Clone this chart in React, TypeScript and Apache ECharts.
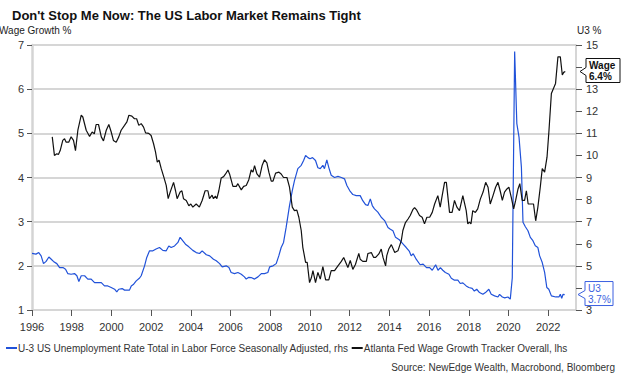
import React, { useEffect, useRef } from "react";
import * as echarts from "echarts";

const FONT = "Liberation Sans, Arial, Helvetica, sans-serif";

const titleText = "Don't Stop Me Now: The US Labor Market Remains Tight";
const leftAxisName = "Wage Growth %";
const rightAxisName = "U3 %";
const unempName = "U-3 US Unemployment Rate Total in Labor Force Seasonally Adjusted, rhs";
const wageName = "Atlanta Fed Wage Growth Tracker Overall, lhs";
const sourceText = "Source: NewEdge Wealth, Macrobond, Bloomberg";

const yearTicks = [1996, 1998, 2000, 2002, 2004, 2006, 2008, 2010, 2012, 2014, 2016, 2018, 2020, 2022];
// right-axis labels covered by the callouts in the original
const hiddenRightLabels = [14, 4];

// Atlanta Fed wage growth tracker (lhs), decimal year / %
const wageDates = [
  1997.02, 1997.13, 1997.25, 1997.33, 1997.42, 1997.55, 1997.64, 1997.72, 1997.85, 1997.97,
  1998.09, 1998.19, 1998.31, 1998.48, 1998.56, 1998.73, 1998.9, 1999.03, 1999.14, 1999.23,
  1999.35, 1999.49, 1999.6, 1999.74, 1999.87, 1999.99, 2000.1, 2000.24, 2000.37, 2000.49,
  2000.66, 2000.78, 2000.88, 2001.03, 2001.16, 2001.27, 2001.38, 2001.5, 2001.62, 2001.72,
  2001.88, 2002.0, 2002.12, 2002.22, 2002.31, 2002.4, 2002.51, 2002.64, 2002.76, 2002.86,
  2002.96, 2003.13, 2003.23, 2003.31, 2003.46, 2003.55, 2003.63, 2003.77, 2003.9, 2004.0,
  2004.1, 2004.27, 2004.43, 2004.57, 2004.72, 2004.86, 2004.94, 2005.07, 2005.14, 2005.24,
  2005.31, 2005.41, 2005.53, 2005.65, 2005.75, 2005.87, 2005.95, 2006.12, 2006.29, 2006.37,
  2006.54, 2006.66, 2006.79, 2006.92, 2007.04, 2007.13, 2007.21, 2007.33, 2007.46, 2007.59,
  2007.71, 2007.83, 2007.93, 2008.05, 2008.14, 2008.27, 2008.44, 2008.55, 2008.67, 2008.84,
  2008.97, 2009.11, 2009.22, 2009.34, 2009.44, 2009.56, 2009.64, 2009.78, 2009.86, 2009.98,
  2010.07, 2010.15, 2010.28, 2010.4, 2010.52, 2010.65, 2010.79, 2010.95, 2011.07, 2011.24,
  2011.41, 2011.58, 2011.7, 2011.8, 2011.91, 2012.03, 2012.16, 2012.29, 2012.46, 2012.53,
  2012.66, 2012.84, 2012.92, 2013.09, 2013.21, 2013.31, 2013.47, 2013.59, 2013.68, 2013.81,
  2013.87, 2013.97, 2014.1, 2014.27, 2014.43, 2014.6, 2014.68, 2014.81, 2014.94, 2015.05,
  2015.18, 2015.27, 2015.38, 2015.52, 2015.65, 2015.77, 2015.89, 2016.03, 2016.16, 2016.28,
  2016.44, 2016.56, 2016.66, 2016.78, 2016.87, 2017.03, 2017.16, 2017.28, 2017.4, 2017.53,
  2017.7, 2017.87, 2017.95, 2018.03, 2018.11, 2018.2, 2018.33, 2018.45, 2018.58, 2018.72,
  2018.85, 2018.97, 2019.08, 2019.22, 2019.35, 2019.47, 2019.58, 2019.69, 2019.8, 2019.92,
  2020.02, 2020.14, 2020.26, 2020.36, 2020.48, 2020.57, 2020.69, 2020.81, 2020.9, 2020.99,
  2021.15, 2021.26, 2021.37, 2021.48, 2021.6, 2021.7, 2021.82, 2021.94, 2022.04, 2022.16,
  2022.27, 2022.37, 2022.49, 2022.61, 2022.71, 2022.78, 2022.86,
];
const wageValues = [
  4.92, 4.5, 4.54, 4.52, 4.61, 4.84, 4.88, 4.8, 4.8, 4.92,
  4.84, 4.61, 5.07, 5.41, 5.37, 5.07, 4.93, 5.03, 4.99, 5.2,
  5.2, 4.92, 4.83, 5.07, 5.2, 5.03, 4.84, 4.8, 4.92, 5.07,
  5.18, 5.26, 5.41, 5.39, 5.33, 5.33, 5.18, 5.22, 5.14, 5.01,
  5.0, 4.95, 4.77, 4.58, 4.35, 4.39, 4.2, 4.01, 3.82, 3.52,
  3.67, 3.89, 3.7, 3.52, 3.67, 3.7, 3.52, 3.48, 3.36, 3.4,
  3.33, 3.4, 3.33, 3.48, 3.7, 3.7, 3.52, 3.6, 3.52, 3.58,
  3.52, 3.7, 3.99, 4.02, 4.08, 4.17, 4.08, 3.8, 3.8, 3.86,
  3.72, 3.8, 3.82, 3.95, 4.17, 4.12, 4.27, 4.08, 4.01, 4.27,
  4.4, 4.33, 4.12, 3.92, 3.92, 4.1, 4.12, 4.08, 4.0, 4.0,
  3.78, 3.33, 3.25, 3.26, 3.1, 2.8, 2.42, 2.08, 2.08, 1.62,
  1.73, 1.89, 1.62, 1.85, 1.7, 1.98, 1.68, 1.68, 1.89, 1.89,
  2.0, 2.1, 2.19, 2.08, 1.96, 2.12, 1.92, 2.03, 2.28, 2.15,
  2.1, 2.1, 2.28, 2.3, 2.19, 2.19, 2.27, 2.38, 2.19, 2.0,
  2.23, 2.38, 2.48, 2.3, 2.34, 2.57, 2.8, 2.98, 3.06, 3.14,
  3.27, 3.32, 3.26, 3.14, 3.1, 2.95, 3.1, 3.1, 3.21, 3.4,
  3.59, 3.33, 3.59, 3.89, 3.89, 3.21, 3.21, 3.48, 3.33, 3.25,
  3.59, 3.25, 2.95, 2.99, 2.95, 3.25, 3.21, 3.29, 3.51, 3.67,
  3.89, 3.78, 3.4, 3.59, 3.78, 3.89, 3.7, 3.48, 3.67, 3.74,
  3.78, 3.55, 3.29, 3.48, 3.74, 3.86, 3.48, 3.48, 3.7, 3.4,
  3.4, 3.4, 3.02, 3.33, 3.78, 4.2, 4.12, 4.46, 5.07, 5.9,
  6.02, 6.13, 6.73, 6.73, 6.32, 6.38, 6.4,
];

// U-3 unemployment rate (rhs), decimal year / %
const unempDates = [
  1996.0, 1996.2, 1996.34, 1996.46, 1996.58, 1996.71, 1996.85, 1996.97, 1997.08, 1997.25,
  1997.39, 1997.56, 1997.69, 1997.8, 1997.97, 1998.14, 1998.26, 1998.36, 1998.48, 1998.65,
  1998.81, 1998.98, 1999.15, 1999.32, 1999.49, 1999.65, 1999.82, 1999.99, 2000.16, 2000.27,
  2000.37, 2000.54, 2000.66, 2000.78, 2000.91, 2001.0, 2001.12, 2001.25, 2001.42, 2001.5,
  2001.67, 2001.78, 2001.92, 2002.09, 2002.25, 2002.42, 2002.59, 2002.76, 2002.89, 2003.01,
  2003.18, 2003.35, 2003.46, 2003.59, 2003.73, 2003.9, 2004.1, 2004.27, 2004.44, 2004.57,
  2004.78, 2004.95, 2005.14, 2005.28, 2005.45, 2005.58, 2005.78, 2005.92, 2006.03, 2006.2,
  2006.37, 2006.54, 2006.7, 2006.79, 2006.92, 2007.04, 2007.21, 2007.38, 2007.55, 2007.71,
  2007.88, 2007.97, 2008.14, 2008.3, 2008.43, 2008.55, 2008.67, 2008.8, 2008.97, 2009.11,
  2009.22, 2009.39, 2009.56, 2009.68, 2009.78, 2009.9, 2010.0, 2010.13, 2010.28, 2010.4,
  2010.52, 2010.65, 2010.73, 2010.85, 2010.95, 2011.07, 2011.24, 2011.41, 2011.58, 2011.74,
  2011.86, 2012.0, 2012.16, 2012.33, 2012.53, 2012.66, 2012.8, 2012.92, 2013.04, 2013.14,
  2013.25, 2013.42, 2013.59, 2013.76, 2013.93, 2014.05, 2014.18, 2014.31, 2014.5, 2014.67,
  2014.85, 2015.01, 2015.1, 2015.2, 2015.35, 2015.55, 2015.7, 2015.87, 2016.03, 2016.16,
  2016.33, 2016.45, 2016.57, 2016.69, 2016.82, 2017.0, 2017.12, 2017.28, 2017.45, 2017.57,
  2017.7, 2017.87, 2018.0, 2018.17, 2018.28, 2018.4, 2018.54, 2018.71, 2018.84, 2019.01,
  2019.13, 2019.3, 2019.47, 2019.55, 2019.69, 2019.81, 2019.97, 2020.09, 2020.19, 2020.31,
  2020.42, 2020.53, 2020.65, 2020.73, 2020.85, 2020.98, 2021.1, 2021.23, 2021.35, 2021.48,
  2021.57, 2021.7, 2021.82, 2021.93, 2022.03, 2022.16, 2022.38, 2022.54, 2022.61, 2022.68,
  2022.75, 2022.83,
];
const unempValues = [
  5.56, 5.53, 5.6, 5.45, 5.1, 5.2, 5.4, 5.3, 5.2, 5.1,
  4.92, 4.92, 4.85, 4.65, 4.62, 4.65, 4.55, 4.29, 4.55, 4.55,
  4.4, 4.4, 4.24, 4.24, 4.24, 4.09, 4.09, 4.02, 3.94, 3.82,
  3.94, 3.97, 3.9, 3.9, 3.9, 4.09, 4.17, 4.32, 4.45, 4.55,
  5.0, 5.38, 5.68, 5.68, 5.76, 5.83, 5.7, 5.68, 5.9, 5.83,
  5.9, 6.06, 6.29, 6.14, 5.98, 5.86, 5.7, 5.6, 5.56, 5.68,
  5.5, 5.45, 5.3, 5.23, 5.1, 4.95, 5.0, 4.92, 4.7, 4.65,
  4.7, 4.62, 4.5, 4.4, 4.48, 4.47, 4.4, 4.5, 4.65, 4.65,
  4.7, 4.95, 5.0, 5.1, 5.45, 5.83, 6.06, 6.74, 7.73, 8.41,
  8.86, 9.4, 9.55, 9.77, 10.0, 9.9, 9.85, 9.9, 9.77, 9.44,
  9.4, 9.55, 9.4, 9.8, 9.45, 9.1, 9.0, 9.05, 9.0, 8.94,
  8.64, 8.41, 8.23, 8.18, 8.18, 7.95, 7.77, 7.73, 8.03, 7.73,
  7.58, 7.43, 7.2, 7.05, 6.74, 6.66, 6.59, 6.29, 6.18, 6.01,
  5.83, 5.65, 5.45, 5.55, 5.3, 5.05, 5.08, 4.92, 4.92, 4.8,
  5.05, 4.8, 4.92, 4.8, 4.7, 4.62, 4.44, 4.35, 4.35, 4.2,
  4.23, 4.09, 4.02, 3.98, 3.86, 3.94, 3.79, 3.71, 3.79, 3.94,
  3.71, 3.64, 3.59, 3.71, 3.59, 3.55, 3.59, 3.49, 4.45, 14.7,
  11.44, 10.83, 9.47, 6.97, 6.77, 6.59, 6.29, 6.14, 5.91, 5.83,
  5.45, 5.15, 4.7, 4.02, 3.94, 3.64, 3.59, 3.59, 3.71, 3.53,
  3.71, 3.7,
];

const BLUE = "#2152d9";
const BLACK = "#111111";

function zip(a: number[], b: number[]) {
  return a.map((d, i) => [d, b[i]]);
}

export default function App() {
  const ref = useRef<HTMLDivElement>(null);

  useEffect(() => {
    document.body.style.margin = "0";
    if (!ref.current) return;
    const chart = echarts.init(ref.current, null, { renderer: "svg" });

    const lastWage = wageValues[wageValues.length - 1];
    const lastUnemp = unempValues[unempValues.length - 1];

    const option: any = {
      animation: false,
      backgroundColor: "#ffffff",
      textStyle: { fontFamily: FONT },
      title: {
        text: titleText,
        left: 7,
        top: 4,
        textStyle: { fontFamily: FONT, fontSize: 13, fontWeight: "bold", color: "#111" },
      },
      grid: { left: 32, right: 47, top: 45, bottom: 70, containLabel: false },
      legend: {
        left: 6,
        top: 343,
        icon: "rect",
        itemWidth: 11,
        itemHeight: 2,
        itemGap: 3,
        padding: 0,
        data: [unempName, wageName],
        textStyle: { fontFamily: FONT, fontSize: 10, color: "#333", padding: [0, 0, 0, -4] },
      },
      xAxis: {
        type: "value",
        min: 1996,
        max: 2023.4,
        interval: 2,
        axisLine: { show: false },
        axisTick: {
          show: true,
          length: 6,
          lineStyle: { color: "#555" },
          customValues: yearTicks,
        },
        axisLabel: {
          fontFamily: FONT,
          fontSize: 11,
          color: "#333",
          margin: 11,
          customValues: yearTicks,
          formatter: (v: number) => String(Math.round(v)),
        },
        splitLine: { show: false },
      },
      yAxis: [
        {
          type: "value",
          position: "left",
          min: 1,
          max: 7,
          interval: 1,
          axisLine: { show: true, lineStyle: { color: "#d4d4d4", width: 2.5 } },
          axisTick: { show: true, length: 5, lineStyle: { color: "#555" } },
          axisLabel: { fontFamily: FONT, fontSize: 11, color: "#333", margin: 8 },
          splitLine: { show: true, lineStyle: { color: "#c8c8c8", width: 1.5 } },
        },
        {
          type: "value",
          position: "right",
          min: 3,
          max: 15,
          interval: 1,
          axisLine: { show: true, lineStyle: { color: "#c8c8c8", width: 1.5 } },
          axisTick: { show: true, length: 6, lineStyle: { color: "#555" } },
          axisLabel: {
            fontFamily: FONT,
            fontSize: 11,
            color: "#333",
            margin: 10,
            formatter: (v: number) => (hiddenRightLabels.indexOf(v) >= 0 ? "" : String(v)),
          },
          splitLine: { show: false },
        },
      ],
      series: [
        {
          name: unempName,
          type: "line",
          yAxisIndex: 1,
          data: zip(unempDates, unempValues),
          showSymbol: false,
          symbol: "none",
          lineStyle: { color: BLUE, width: 1.2 },
          itemStyle: { color: BLUE },
          z: 3,
        },
        {
          name: wageName,
          type: "line",
          yAxisIndex: 0,
          data: zip(wageDates, wageValues),
          showSymbol: false,
          symbol: "none",
          lineStyle: { color: BLACK, width: 1.2 },
          itemStyle: { color: BLACK },
          z: 4,
        },
      ],
    };

    chart.setOption(option);

    const wy = chart.convertToPixel({ yAxisIndex: 0 }, lastWage) as number;
    const uy = chart.convertToPixel({ yAxisIndex: 1 }, lastUnemp) as number;
    const axisX = chart.convertToPixel({ xAxisIndex: 0 }, 2023.4) as number;

    const callout = (
      tipY: number, tipX: number, left: number, right: number, top: number, bottom: number,
      color: string, l1: string, l2: string, bold: boolean
    ) => ({
      type: "group",
      z: 100,
      children: [
        {
          type: "polygon",
          z: 100,
          shape: {
            points: [
              [left, top],
              [right, top],
              [right, bottom],
              [left, bottom],
              [left, tipY + 4],
              [tipX, tipY],
              [left, tipY - 4],
            ],
          },
          style: { fill: "#ffffff", stroke: color, lineWidth: 1 },
        },
        {
          type: "text",
          z: 101,
          x: left + 3,
          y: top + 6.5,
          style: { text: l1, fill: color, font: `${bold ? "bold " : ""}10px ${FONT}`, verticalAlign: "middle" },
        },
        {
          type: "text",
          z: 101,
          x: left + 3,
          y: top + 17.5,
          style: { text: l2, fill: color, font: `${bold ? "bold " : ""}10px ${FONT}`, verticalAlign: "middle" },
        },
      ],
    });

    chart.setOption({
      graphic: [
        {
          type: "text",
          left: -1,
          top: 25,
          z: 50,
          style: { text: leftAxisName, fill: "#222", font: `10px ${FONT}` },
        },
        {
          type: "text",
          left: 577,
          top: 25,
          z: 50,
          style: { text: rightAxisName, fill: "#222", font: `10px ${FONT}` },
        },
        {
          type: "text",
          right: 8,
          top: 362,
          z: 50,
          style: { text: sourceText, fill: "#333", font: `10px ${FONT}` },
        },
        callout(wy, axisX + 4, axisX + 10, axisX + 44, wy - 13, wy + 11, "#111111", "Wage", lastWage.toFixed(1) + "%", true),
        callout(uy, axisX + 2, axisX + 9, axisX + 37, uy - 13, uy + 11, "#3a5fe0", "U3", lastUnemp.toFixed(1) + "%", false),
      ],
    });

    return () => chart.dispose();
  }, []);

  return <div ref={ref} style={{ width: 623, height: 380 }} />;
}
